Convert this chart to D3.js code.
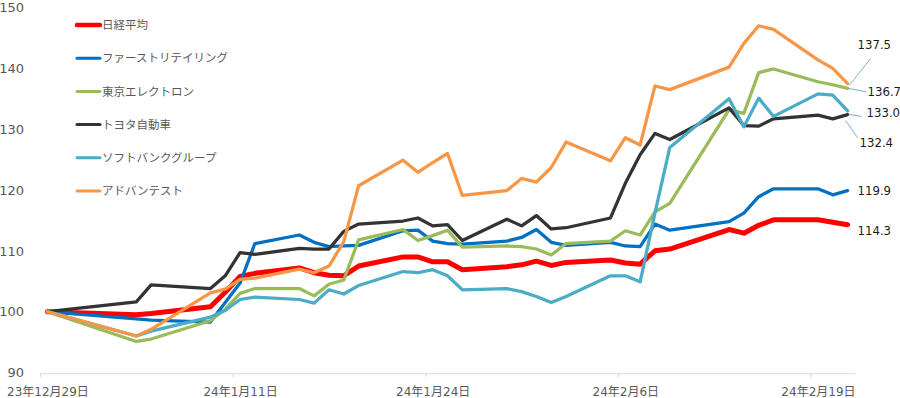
<!DOCTYPE html>
<html>
<head>
<meta charset="utf-8">
<script src="https://cdn.jsdelivr.net/npm/d3@7"></script>
<style>
  body { margin: 0; background: #fff; }
  svg { display: block; }
</style>
</head>
<body>
<div id="chart"></div>
<script>
// trading days
const dates = ["2023-12-29","2024-01-04","2024-01-05","2024-01-09","2024-01-10","2024-01-11","2024-01-12",
  "2024-01-15","2024-01-16","2024-01-17","2024-01-18","2024-01-19","2024-01-22","2024-01-23","2024-01-24",
  "2024-01-25","2024-01-26","2024-01-29","2024-01-30","2024-01-31","2024-02-01","2024-02-02","2024-02-05",
  "2024-02-06","2024-02-07","2024-02-08","2024-02-09","2024-02-13","2024-02-14","2024-02-15","2024-02-16",
  "2024-02-19","2024-02-20","2024-02-21"];

// indexed, 12/29 = 100
const nikkei = [100, 99.5, 99.7, 100.8, 103.2, 105.8, 106.3, 107.2, 106.4, 106.0, 105.9, 107.5, 109.0, 109.0,
  108.2, 108.2, 106.9, 107.4, 107.7, 108.3, 107.6, 108.1, 108.5, 108.0, 107.8, 110.0, 110.3, 113.5, 112.9,
  114.2, 115.1, 115.1, 114.7, 114.3];
const fastRetailing = [100, 98.8, 98.6, 98.3, 101.5, 104.7, 111.2, 112.6, 111.4, 110.7, 110.8, 110.9, 113.3,
  113.4, 111.6, 111.2, 111.1, 111.6, 112.2, 113.5, 111.4, 110.9, 111.4, 110.8, 110.7, 114.4, 113.4, 114.8,
  116.2, 118.9, 120.2, 120.2, 119.2, 119.9];
const tokyoElectron = [100, 95.1, 95.5, 98.5, 100.4, 103.0, 103.8, 103.8, 102.6, 104.5, 105.2, 111.8, 113.5,
  111.7, 112.5, 113.4, 110.6, 110.8, 110.7, 110.3, 109.3, 111.2, 111.6, 113.3, 112.6, 116.4, 117.8, 133.2,
  132.6, 139.3, 139.9, 137.8, 137.3, 136.7];
const toyota = [100, 101.6, 104.4, 103.8, 105.9, 109.7, 109.4, 110.4, 110.3, 110.3, 113.2, 114.4, 114.9, 115.4,
  114.1, 114.3, 111.7, 115.2, 114.1, 115.8, 113.6, 113.8, 115.4, 121.1, 125.8, 129.3, 128.3, 133.5, 130.6,
  130.5, 131.7, 132.3, 131.7, 132.4];
const softbank = [100, 96.0, 96.8, 99.1, 100.2, 102.0, 102.4, 102.0, 101.4, 103.6, 102.9, 104.3, 106.6, 106.4,
  106.9, 105.9, 103.6, 103.8, 103.3, 102.5, 101.5, 102.5, 105.9, 105.9, 104.9, 116.2, 127.0, 135.0, 130.4,
  135.1, 132.1, 135.8, 135.6, 133.0];
const advantest = [100, 96.0, 97.1, 103.1, 103.7, 105.3, 105.5, 107.0, 106.4, 107.5, 111.5, 120.7, 124.9, 122.9,
  124.5, 126.0, 119.1, 119.9, 121.9, 121.3, 123.7, 127.9, 124.8, 128.6, 127.4, 137.1, 136.5, 140.2, 144.1,
  147.0, 146.4, 141.4, 140.0, 137.5];

const names = ["日経平均", "ファーストリテイリング", "東京エレクトロン", "トヨタ自動車", "ソフトバンクグループ", "アドバンテスト"];
const values = [nikkei, fastRetailing, tokyoElectron, toyota, softbank, advantest];

const yTicks = [90, 100, 110, 120, 130, 140, 150];
const xTickDates = ["2023-12-29", "2024-01-11", "2024-01-24", "2024-02-06", "2024-02-19"];
const xTickLabels = ["23年12月29日", "24年1月11日", "24年1月24日", "24年2月6日", "24年2月19日"];

// look
const colors = ["#ff0000", "#0070c0", "#9bbb59", "#333333", "#4bacc6", "#f79646"];
const widths = [5, 3.25, 3.25, 3.25, 3.25, 3.25];
// end label placement (offset from last point), leader line [x1,y1,x2,y2] offsets
const endLabel = [
  {dx: 10, dy: 6, leader: null},
  {dx: 10, dy: 0, leader: null},
  {dx: 20, dy: 3, leader: [1, 0, 19, 3.5]},
  {dx: 12, dy: 28, leader: [-2, 6, 10, 23]},
  {dx: 19, dy: 2, leader: [1, 3.5, 14, 5.5]},
  {dx: 10, dy: -39, leader: [1.5, 2, 23, -25]}
];

const W = 900, H = 398;
const parse = d3.utcParse("%Y-%m-%d");
const xDates = dates.map(parse);

const svg = d3.select("#chart").append("svg")
  .attr("width", W).attr("height", H)
  .attr("viewBox", [0, 0, W, H]);

const x = d3.scaleUtc()
  .domain([parse("2023-12-29"), parse("2024-02-22")])
  .range([40, 855]);
const mid = d => d3.utcHour.offset(d, 12);   // points sit in the middle of each day slot
const halfDay = x(mid(x.domain()[0])) - x(x.domain()[0]);

const y = d3.scaleLinear().domain([90, 150]).range([372.5, 7.5]);

// y axis (labels only)
const yAxis = svg.append("g")
  .attr("transform", "translate(28,0)")
  .call(d3.axisLeft(y).tickValues(yTicks).tickSize(0).tickPadding(4));
yAxis.select(".domain").remove();
yAxis.selectAll("text")
  .attr("fill", "#595959")
  .style("font-family", "'DejaVu Sans', sans-serif")
  .style("font-size", "13px");

// x axis
const xAxis = svg.append("g")
  .attr("transform", "translate(0,373.3)")
  .call(d3.axisBottom(x)
    .tickValues(xTickDates.map(parse))
    .tickFormat((d, i) => xTickLabels[i])
    .tickSize(4).tickSizeOuter(0).tickPadding(10));
xAxis.select(".domain").attr("stroke", "#d9d9d9");
xAxis.selectAll(".tick line").attr("stroke", "#d9d9d9");
xAxis.selectAll("text")
  .attr("x", halfDay)
  .attr("fill", "#595959")
  .style("font-family", "'DejaVu Sans', 'Noto Sans CJK JP', sans-serif")
  .style("font-size", "12px");

// lines
const line = d3.line()
  .x((d, i) => x(mid(xDates[i])))
  .y(d => y(d));

svg.append("g").selectAll("path")
  .data(values)
  .join("path")
    .attr("d", d => line(d))
    .attr("fill", "none")
    .attr("stroke", (d, i) => colors[i])
    .attr("stroke-width", (d, i) => widths[i])
    .attr("stroke-linejoin", "round")
    .attr("stroke-linecap", "round");

// end labels
const lastX = x(mid(xDates[xDates.length - 1]));
const labels = svg.append("g");
values.forEach((v, i) => {
  const ly = y(v[v.length - 1]);
  const o = endLabel[i];
  if (o.leader) {
    labels.append("line")
      .attr("x1", lastX + o.leader[0]).attr("y1", ly + o.leader[1])
      .attr("x2", lastX + o.leader[2]).attr("y2", ly + o.leader[3])
      .attr("stroke", "#5b9bd5")
      .attr("stroke-width", 0.8);
  }
  labels.append("text")
    .attr("x", lastX + o.dx)
    .attr("y", ly + o.dy)
    .attr("dy", "0.35em")
    .attr("fill", "#1a1a1a")
    .style("font-family", "'DejaVu Sans Condensed', 'DejaVu Sans', sans-serif")
    .style("font-size", "13px")
    .text(v[v.length - 1].toFixed(1));
});

// legend
const legend = svg.append("g").attr("transform", "translate(77,25)");
const rows = legend.selectAll("g")
  .data(names)
  .join("g")
    .attr("transform", (d, i) => `translate(0,${i * 33.2})`);
rows.append("line")
  .attr("x1", 0).attr("x2", 23)
  .attr("stroke", (d, i) => colors[i])
  .attr("stroke-width", (d, i) => widths[i] === 5 ? 4.5 : 3)
  .attr("stroke-linecap", "round");
rows.append("text")
  .attr("x", 25)
  .attr("dy", "0.36em")
  .attr("fill", "#595959")
  .style("font-family", "'Noto Sans CJK JP', sans-serif")
  .style("font-size", "11.5px")
  .text(d => d);
</script>
</body>
</html>
